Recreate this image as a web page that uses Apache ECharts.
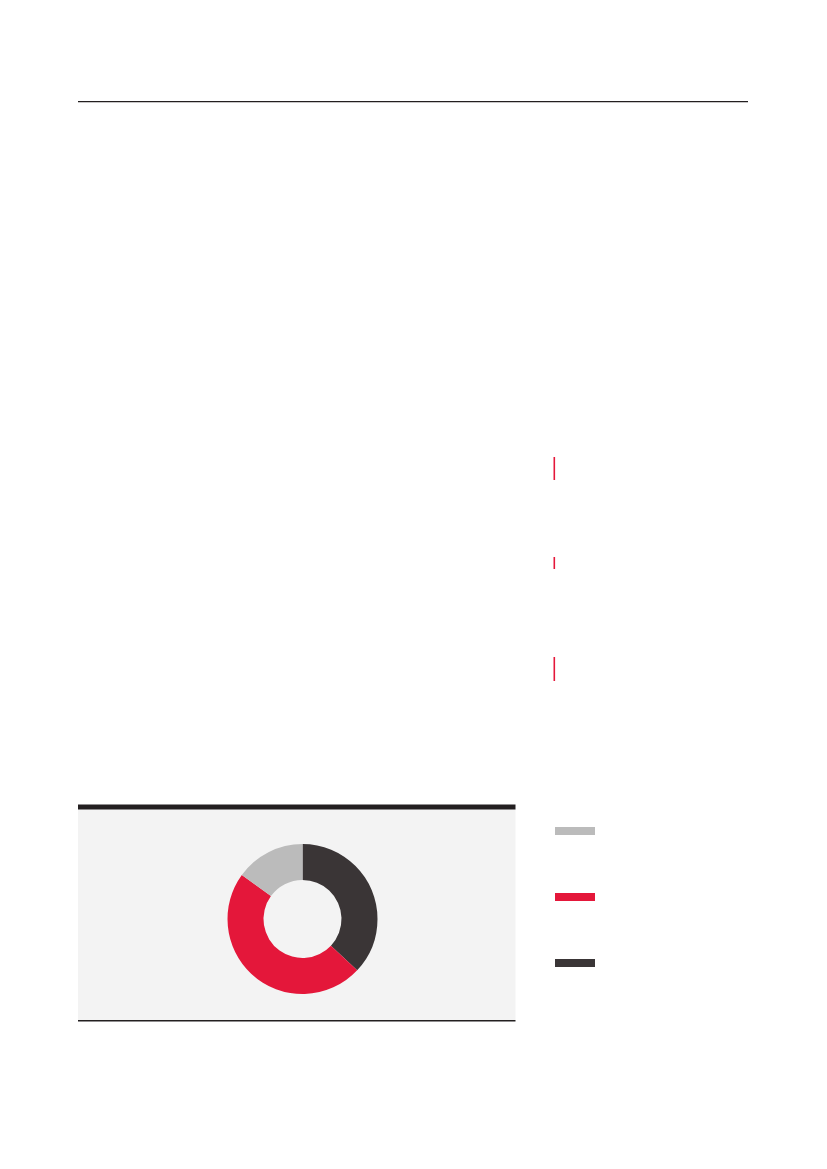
<!DOCTYPE html>
<html>
<head>
<meta charset="utf-8">
<script src="https://cdn.jsdelivr.net/npm/echarts@6/dist/echarts.min.js"></script>
<style>
  html, body { margin: 0; padding: 0; background: #ffffff; }
  #chart { width: 827px; height: 1169px; }
</style>
</head>
<body>
<div id="chart"></div>
<script>
const categories = ['Dark', 'Red', 'Grey'];
const shares = [37, 48, 15];
const colors = ['#3a3536', '#e4173a', '#bbbbbb'];
const legendOrder = ['Grey', 'Red', 'Dark'];

const chart = echarts.init(document.getElementById('chart'), null, { renderer: 'canvas' });

const pieData = categories.map((c, i) => ({
  name: c,
  value: shares[i],
  itemStyle: { color: colors[i] }
}));

chart.setOption({
  animation: false,
  backgroundColor: '#ffffff',
  graphic: [
    // top rule
    { type: 'rect', shape: { x: 78, y: 101, width: 670, height: 1.2 }, style: { fill: '#231f20' }, z: 1 },
    // red accent marks
    { type: 'rect', shape: { x: 553.5, y: 457, width: 1.6, height: 23 }, style: { fill: '#e4173a' }, z: 1 },
    { type: 'rect', shape: { x: 553.5, y: 557, width: 1.6, height: 12 }, style: { fill: '#e4173a' }, z: 1 },
    { type: 'rect', shape: { x: 553.5, y: 657, width: 1.6, height: 24 }, style: { fill: '#e4173a' }, z: 1 },
    // panel background
    { type: 'rect', shape: { x: 78, y: 809, width: 437.5, height: 211 }, style: { fill: '#f3f3f3' }, z: 0 },
    // panel top thick bar
    { type: 'rect', shape: { x: 78, y: 804.5, width: 437.5, height: 5 }, style: { fill: '#231f20' }, z: 1 },
    // panel bottom rule
    { type: 'rect', shape: { x: 78, y: 1020, width: 437.5, height: 1.4 }, style: { fill: '#231f20' }, z: 1 }
  ],
  legend: {
    orient: 'vertical',
    left: 555,
    top: 827,
    padding: 0,
    icon: 'rect',
    itemWidth: 40,
    itemHeight: 8,
    itemGap: 58,
    data: legendOrder,
    formatter: function () { return ''; },
    selectedMode: false,
    textStyle: { fontSize: 1 }
  },
  series: [{
    type: 'pie',
    center: [302.5, 919],
    radius: [39, 75],
    startAngle: 90,
    clockwise: true,
    label: { show: false },
    labelLine: { show: false },
    emphasis: { disabled: true },
    itemStyle: { borderWidth: 0 },
    data: pieData,
    z: 5
  }]
});
</script>
</body>
</html>
